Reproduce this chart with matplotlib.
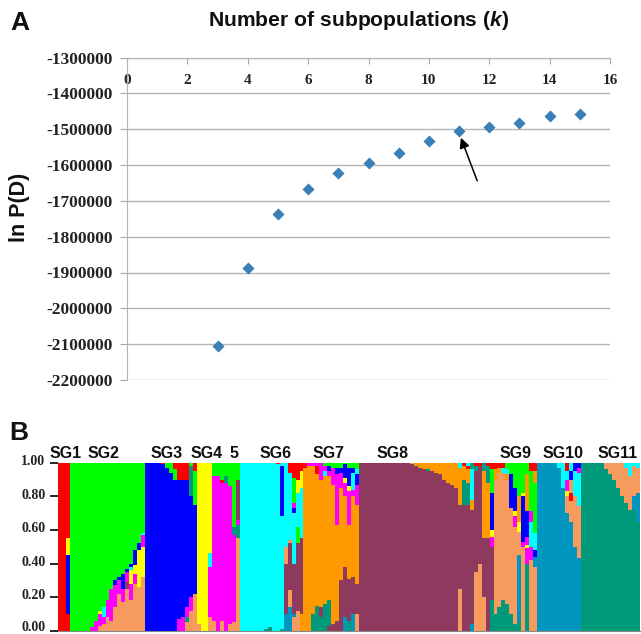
import re
import matplotlib
matplotlib.use("Agg")
import matplotlib.pyplot as plt
from matplotlib.transforms import ScaledTranslation

plt.rcParams['font.family'] = ['Liberation Sans', 'DejaVu Sans']
plt.rcParams['mathtext.fontset'] = 'custom'
plt.rcParams['mathtext.bfit'] = 'Liberation Sans:italic:bold'

# Panel A data
k_values = [3, 4, 5, 6, 7, 8, 9, 10, 11, 12, 13, 14, 15]
ln_pd = [-2106000, -1888000, -1736000, -1666000, -1623000, -1594000, -1567000,
         -1533000, -1506000, -1494000, -1482000, -1463000, -1457000]
x_ticks = [0, 2, 4, 6, 8, 10, 12, 14, 16]
y_ticks_a = [-1300000, -1400000, -1500000, -1600000, -1700000,
             -1800000, -1900000, -2000000, -2100000, -2200000]

# Panel B data: one string per individual, segments from bottom to top (percent)
palette = {"R": "#ff0000", "G": "#00ff00", "B": "#0000ff", "Y": "#ffff00",
           "M": "#ff00ff", "C": "#00ffff", "O": "#ff9900", "P": "#8e3a5e",
           "S": "#f79a5e", "T": "#0096c0", "D": "#009a7a"}

sg1 = ["R100", "R100", "R10 B35 Y10 R45"]
sg2 = ["G100", "G100", "G100", "G100", "G100", "M2 G98", "M6 G94", "S3 M7 Y2 G88",
       "S4 M4 C6 G86", "S8 M10 G82", "S6 M19 G75", "S14 M13 B3 G70", "S22 M8 B2 G68",
       "S17 M8 B9 G66", "S25 P4 M6 B2 G63", "S18 M10 Y8 C2 B2 G60", "S28 M6 Y5 B9 G52",
       "S26 Y22 B4 G48", "S32 Y18 M7 C1 G42"]
sg3 = ["B100", "B100", "B100", "B100", "B99 R1", "B97 G3", "B94 G6", "B90 G6 R4",
       "M7 B83 R10", "M8 B82 R10", "S5 D3 M6 B76 R10", "S12 M8 B60 D18 G2", "S22 B53 G20 R5"]
sg4 = ["S4 Y96", "Y100", "Y100", "S8 M30 C8 Y54"]
sg5 = ["S6 M86 G8", "M92 G8", "S6 M82 R2 G10", "M88 D4 G8", "S4 M82 G14", "S5 M52 D5 G38",
       "S55 D8 M3 P24 G10"]
sg6 = ["C100", "C100", "C100", "C100", "C100", "C100", "D1 C99", "D2 C98", "C100", "C99 R1",
       "D1 C67 B30 C2", "T10 P30 S10 C50", "T14 S10 P28 S2 C40 R6", "S8 T2 P30 C30 B3 M3 G15 R9",
       "S12 P40 G10 C20 Y8 R10", "O10 P45 C30 Y10 R5"]
sg7 = ["O97 R3", "O98 M2", "D10 O88 M2", "D15 O78 R5 M2", "D8 P6 O76 M10", "D16 O76 C3 M3 G2",
       "P3 D15 O74 M3 B3 G2", "P4 O83 M10 G3", "P6 O57 M30 B4 G3", "P30 O55 M9 B3 G3",
       "T8 P30 O42 M8 Y3 B8 G1", "D6 P25 O32 M20 Y3 B11 G3", "T10 P22 O48 M4 C10 B3 G3",
       "S10 P18 O47 M12 B6 C3 G4"]
sg8 = ["P100", "P100", "P100", "P100", "P100", "P100", "P100", "P100", "P100", "P100", "P100",
       "P100", "P100", "P99 S1", "P98 O2", "P97 O3", "P96 O4", "P95 D1 O4", "P95 O5", "P94 O6",
       "P93 O7", "P90 O10", "P88 O12", "P87 O13", "P85 O15", "S25 P50 O22 C3", "P75 D15 O8 R2",
       "P75 D13 O8 R2 C2", "T4 P68 O6 C18 D4", "S35 P60 D3 R2", "S40 P58 R2", "S20 P35 O40 D5",
       "P55 O33 D10 R2", "D18 P32 M6 Y4 B22 G14 R4"]
sg9 = ["D10 S80 O6 R4", "D14 S80 O3 R3", "D18 S76 C3 R3", "D16 S74 O3 C3 G4", "D10 S63 B20 G7",
       "D4 S58 M6 Y3 B14 G15", "D5 T40 S14 Y6 O15 G20", "S50 M3 B27 Y2 G18",
       "D40 M9 Y2 M5 B15 O22 G7", "S42 M8 C15 M6 G24 R5", "S38 T6 B4 C10 G30 O7 R5"]
sg10 = ["T100", "T100", "T100", "T100", "T100", "T97 C3", "T85 C15", "T70 S10 Y3 M7 C5 R5",
        "T65 S12 R5 S8 B5 C5", "T50 S30 C15 B5", "T43 S31 C20 M3 B3"]
sg11 = ["D100", "D100", "D100", "D100", "D100", "D100", "D96 S4", "D93 S7", "D90 S10", "D85 S15",
        "D80 S20", "D76 S21 C3", "D72 S20 C8", "D72 T8 S18 C2", "D65 T17 S15 C3"]
groups = [sg1, sg2, sg3, sg4, sg5, sg6, sg7, sg8, sg9, sg10, sg11]
group_labels = ["SG1", "SG2", "SG3", "SG4", "5", "SG6", "SG7", "SG8", "SG9", "SG10", "SG11"]
y_ticks_b = [0.0, 0.2, 0.4, 0.6, 0.8, 1.0]

W, H = 641, 634
fig = plt.figure(figsize=(W / 100, H / 100), dpi=100)


def pixel_axes(left, top, right, bottom):
    return fig.add_axes([left / W, 1 - bottom / H, (right - left) / W, (bottom - top) / H])


# Panel A
ax = pixel_axes(127, 57.5, 610, 380)
ax.scatter(k_values, ln_pd, marker="D", s=38, color="#3a7fb5", zorder=3, linewidths=0)
ax.set_xlim(0, 16)
ax.set_ylim(-2200000, -1300000)
ax.xaxis.tick_top()
ax.set_xticks(x_ticks)
ax.set_yticks(y_ticks_a)
ax.set_yticklabels([str(v) for v in y_ticks_a])
ax.tick_params(axis='x', direction='in', length=4, color="#a8a8a8", pad=-21,
               labelsize=11, labelcolor="#222222")
ax.tick_params(axis='y', direction='out', length=5, color="#a8a8a8", pad=5,
               labelsize=12.5, labelcolor="#222222")
for t in ax.get_xticklabels() + ax.get_yticklabels():
    t.set_family('Liberation Serif')
    t.set_fontweight('bold')
ax.grid(True, axis='y', color="#b4b4b4", linewidth=1)
for side in ['right', 'bottom']:
    ax.spines[side].set_visible(False)
for side in ['left', 'top']:
    ax.spines[side].set_color("#b4b4b4")
ax.annotate("", xy=(11.06, -1524000), xytext=(11.6, -1644000),
            arrowprops=dict(arrowstyle="-|>", color="black", lw=1.1, mutation_scale=15,
                            shrinkA=0, shrinkB=0))

fig.text(359 / W, 1 - 21 / H, r"Number of subpopulations ($\mathbfit{k}$)", ha='center', va='center',
         fontsize=15.2, fontweight='bold', color="#111111")
fig.text(20 / W, 1 - 23 / H, "A", ha='center', va='center', fontsize=19, fontweight='bold', color="#111111")
fig.text(19 / W, 1 - 207 / H, "ln P(D)", rotation=90, ha='center', va='center',
         fontsize=15.5, fontweight='bold', color="#111111")

# Panel B
ax2 = pixel_axes(58, 462.7, 640, 630.7)
pos = 0
for g in groups:
    for col in g:
        bottom = 0
        for key, h in re.findall(r"([A-Z])(\d+)", col):
            ax2.bar(pos, int(h) / 100, bottom=bottom, width=1.02, align='edge',
                    color=palette[key], linewidth=0)
            bottom += int(h) / 100
        pos += 1
ax2.set_xlim(0, pos)
ax2.set_ylim(0, 1)
ax2.set_xticks([])
ax2.set_yticks(y_ticks_b)
ax2.set_yticklabels([f"{v:.2f}" for v in y_ticks_b], family='Liberation Serif', fontweight='bold')
ax2.tick_params(axis='y', length=6, width=1.2, pad=3, labelsize=10, labelcolor="#222222")
shift = ScaledTranslation(0, 2 / 72, fig.dpi_scale_trans)
for t in ax2.get_yticklabels():
    t.set_transform(t.get_transform() + shift)
# keep the lowest label inside the picture
low = ax2.get_yticklabels()[0]
low.set_transform(low.get_transform() + ScaledTranslation(0, 1.5 / 72, fig.dpi_scale_trans))
for side in ['left', 'right', 'top']:
    ax2.spines[side].set_visible(False)
ax2.spines['bottom'].set_color("#888888")

label_px = [65.5, 104, 167, 207, 234.5, 276, 329, 393, 515.5, 563.5, 617.5]
for x, label in zip(label_px, group_labels):
    fig.text(x / W, 1 - 453 / H, label, ha='center', va='center', fontsize=11.5,
             fontweight='bold', color="#111111")
fig.text(19 / W, 1 - 433 / H, "B", ha='center', va='center', fontsize=19, fontweight='bold', color="#111111")

plt.savefig("out.png", dpi=100)
